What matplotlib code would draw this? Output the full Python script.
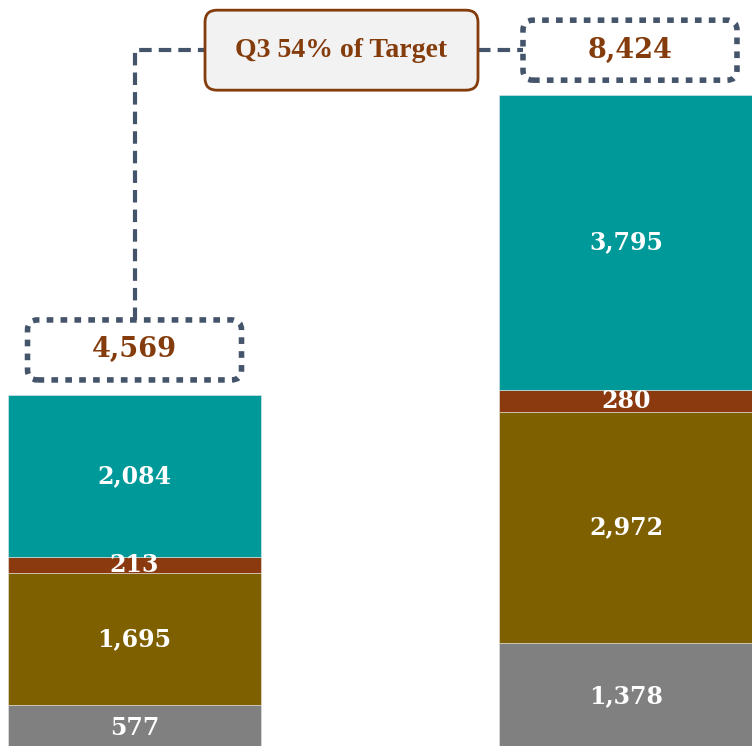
import matplotlib.pyplot as plt
import numpy as np
from matplotlib.patches import FancyBboxPatch

plt.rcParams['font.family'] = 'serif'
plt.rcParams['font.serif'] = ['DejaVu Serif']

# data
bars = ['Q3', 'Target']
gray_vals = [577, 1378]
olive_vals = [1695, 2972]
rust_vals = [213, 280]
teal_vals = [2084, 3795]
totals = [4569, 8424]

colors = ['#808080', '#7F6000', '#8B3A0F', '#009999']
series = [gray_vals, olive_vals, rust_vals, teal_vals]

fig = plt.figure(figsize=(7.52, 7.46), dpi=100)
ax = fig.add_axes([0, -4 / 746, 1, 750 / 746])
ax.set_xlim(-0.2737, 1.2564)
ax.set_ylim(0, 9645)
ax.axis('off')

x = np.arange(len(bars))
width = 0.515
bottom = np.zeros(len(bars))
for vals, c in zip(series, colors):
    ax.bar(x, vals, width, bottom=bottom, color=c, edgecolor='#e8e8e8', linewidth=0.4)
    for xi, b, v in zip(x, bottom, vals):
        ax.text(xi, b + v / 2, f'{v:,}', ha='center', va='center', color='white',
                fontsize=17, fontweight='bold')
    bottom += np.array(vals)

# pixel -> data scale, for rounded corners that look round
px_x = 491.5
px_y = 0.07776
aspect = (1 / px_y) / (1 / px_x)
line_c = '#44546A'
text_c = '#843C0C'

box_w = 214 / px_x
box_h = 60 / px_y
gap = 190
box_centers = []
for xi, t in zip(x, totals):
    cx = xi + (4 / px_x if xi == 1 else 0)
    y0 = t + gap
    p = FancyBboxPatch((cx - box_w / 2, y0), box_w, box_h,
                       boxstyle=f'round,pad=0,rounding_size={10 / px_x}',
                       mutation_aspect=aspect, facecolor='white',
                       edgecolor=line_c, linewidth=4, linestyle=(0, (1.2, 1.3)),
                       zorder=3)
    ax.add_patch(p)
    ax.text(cx, y0 + box_h / 2, f'{t:,}', ha='center', va='center', color=text_c,
            fontsize=19.5, fontweight='bold', zorder=4)
    box_centers.append((cx, y0, y0 + box_h / 2))

# target % box
pct = round(totals[0] / totals[1] * 100)
mid_y = box_centers[1][2]
qx0 = (205 - 134.5) / px_x
qx1 = (478 - 134.5) / px_x
qh = 80 / px_y
q = FancyBboxPatch((qx0, mid_y - qh / 2), qx1 - qx0, qh,
                   boxstyle=f'round,pad=0,rounding_size={12 / px_x}',
                   mutation_aspect=aspect, facecolor='#F2F2F2',
                   edgecolor='#843C0C', linewidth=2, zorder=3)
ax.add_patch(q)
ax.text((qx0 + qx1) / 2, mid_y, f'{bars[0]} {pct}% of Target', ha='center', va='center',
        color=text_c, fontsize=20, fontweight='bold', family='Liberation Serif', zorder=4)

# connector lines
lx, ltop, _ = box_centers[0]
ltop = ltop + box_h
ax.plot([lx, lx, qx0], [ltop, mid_y, mid_y], color=line_c, linewidth=3,
        linestyle=(0, (3, 1.7)), zorder=2)
rx = box_centers[1][0] - box_w / 2
ax.plot([qx1, rx], [mid_y, mid_y], color=line_c, linewidth=3,
        linestyle=(0, (3, 1.7)), zorder=2)

fig.savefig('out.png', dpi=100)
